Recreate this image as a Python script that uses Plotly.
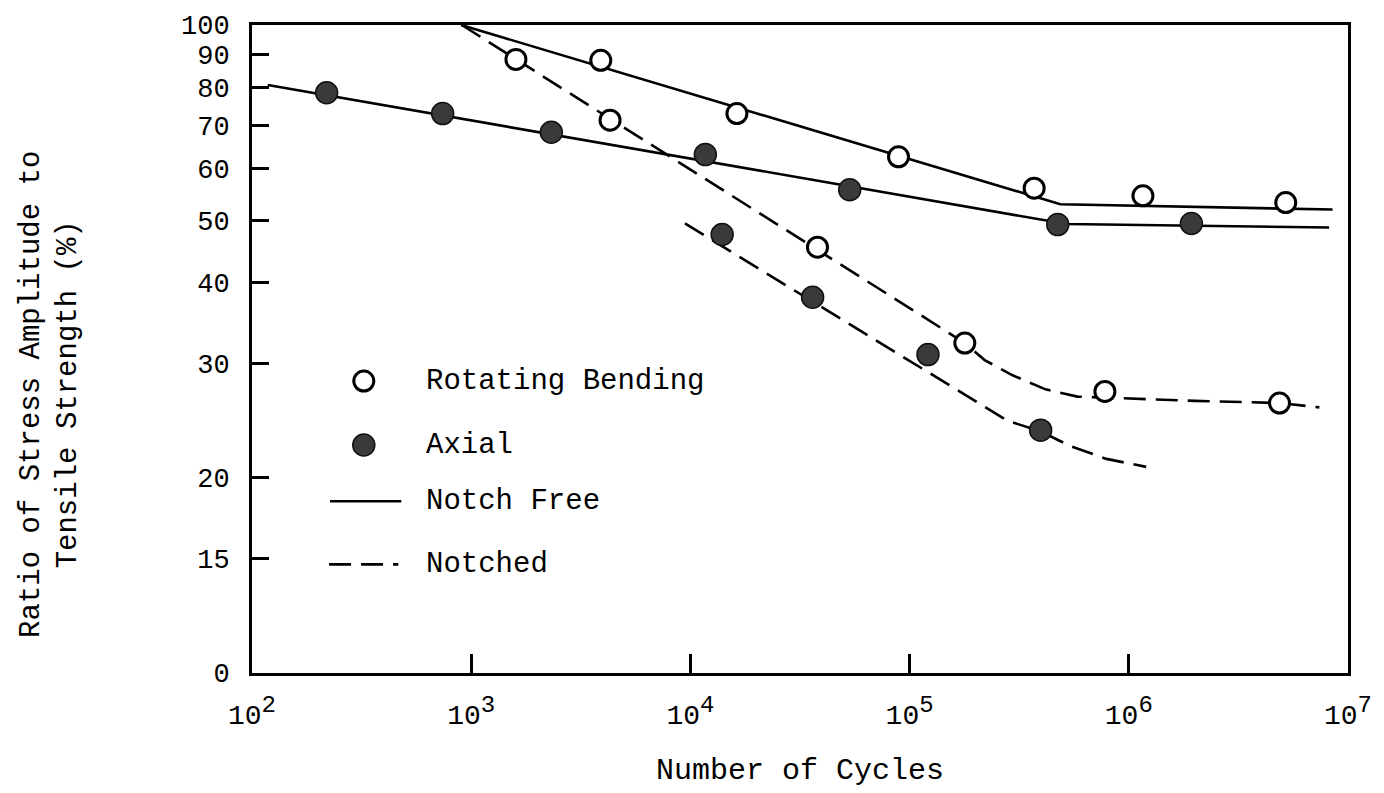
import plotly.graph_objects as go

# ---- measured fatigue data (cycles, % of tensile strength) ----
rb_free_n = [3900, 16300, 89000, 370000, 1160000, 5200000]
rb_free_s = [88.2, 73.0, 62.6, 56.0, 54.5, 53.2]

rb_notched_n = [1600, 4300, 38000, 178600, 778000, 4870000]
rb_notched_s = [88.5, 71.3, 45.4, 32.3, 27.2, 26.1]

ax_free_n = [219, 741, 2320, 11700, 53300, 474000, 1930000]
ax_free_s = [78.6, 73.0, 68.3, 63.1, 55.7, 49.2, 49.4]

ax_notched_n = [13960, 36100, 121300, 396000]
ax_notched_s = [47.5, 38.0, 31.0, 23.7]

# ---- faired S-N curves ----
rb_free_curve_n = [900, 487000, 8500000]
rb_free_curve_s = [100, 52.9, 51.9]

ax_free_curve_n = [118, 520000, 8200000]
ax_free_curve_s = [80.8, 49.3, 48.7]

rb_notched_curve_n = [906, 178600, 220000, 295000, 417000, 583000, 800000, 2000000, 4870000, 7400000]
rb_notched_curve_s = [100, 32.3, 30.4, 28.8, 27.4, 26.7, 26.6, 26.3, 26.1, 25.7]

ax_notched_curve_n = [9440, 280000, 396000, 541000, 790000, 1200000]
ax_notched_curve_s = [49.4, 24.5, 23.6, 22.4, 21.4, 20.8]

# ---- axis ticks ----
x_tickvals = [1e2, 1e3, 1e4, 1e5, 1e6, 1e7]
x_exponents = ["2", "3", "4", "5", "6", "7"]
y_tickvals = [10, 15, 20, 30, 40, 50, 60, 70, 80, 90, 100]
y_ticktext = ["0", "15", "20", "30", "40", "50", "60", "70", "80", "90", "100"]

legend_labels = ["Rotating Bending", "Axial", "Notch Free", "Notched"]

FONT = "Courier New, Liberation Mono, monospace"
FS = 29
DASH = "22px,10px"
LW = 2.6

# typewriter-style powers of ten with a near full-size exponent
x_ticktext = ["10<sup><span style='font-size:24px'>%s</span></sup>" % e
              for e in x_exponents]

fig = go.Figure()

# curves first so the markers sit on top
for n, s, dash in [(rb_free_curve_n, rb_free_curve_s, "solid"),
                   (ax_free_curve_n, ax_free_curve_s, "solid"),
                   (rb_notched_curve_n, rb_notched_curve_s, DASH),
                   (ax_notched_curve_n, ax_notched_curve_s, DASH)]:
    fig.add_trace(go.Scatter(x=n, y=s, mode="lines",
                             line=dict(color="black", width=LW, dash=dash),
                             showlegend=False, hoverinfo="skip"))

open_marker = dict(symbol="circle", size=20, color="white",
                   line=dict(color="black", width=3))
filled_marker = dict(symbol="circle", size=22, color="#3a3a3a",
                     line=dict(color="#111111", width=1.5))

for n, s in [(rb_free_n, rb_free_s), (rb_notched_n, rb_notched_s)]:
    fig.add_trace(go.Scatter(x=n, y=s, mode="markers", marker=open_marker,
                             showlegend=False, cliponaxis=False))
for n, s in [(ax_free_n, ax_free_s), (ax_notched_n, ax_notched_s)]:
    fig.add_trace(go.Scatter(x=n, y=s, mode="markers", marker=filled_marker,
                             showlegend=False, cliponaxis=False))

# ---- key drawn inside the plot area ----
key_x_sym = 0.102
key_x_text = 0.157
key_rows = [0.4506, 0.3518, 0.2650, 0.1677]

shapes = [
    dict(type="circle", xref="paper", yref="paper",
         xsizemode="pixel", ysizemode="pixel",
         xanchor=key_x_sym, yanchor=key_rows[0],
         x0=-10, x1=10, y0=-10, y1=10,
         line=dict(color="black", width=3), fillcolor="white"),
    dict(type="circle", xref="paper", yref="paper",
         xsizemode="pixel", ysizemode="pixel",
         xanchor=key_x_sym, yanchor=key_rows[1],
         x0=-11, x1=11, y0=-11, y1=11,
         line=dict(color="#111111", width=1.5), fillcolor="#3a3a3a"),
    dict(type="line", xref="paper", yref="paper",
         x0=0.0712, x1=0.1362, y0=key_rows[2], y1=key_rows[2],
         line=dict(color="black", width=LW)),
    dict(type="line", xref="paper", yref="paper",
         x0=0.0703, x1=0.1335, y0=key_rows[3], y1=key_rows[3],
         line=dict(color="black", width=LW, dash=DASH)),
]

annotations = [
    dict(text=lbl, xref="paper", yref="paper", x=key_x_text, y=yy,
         xanchor="left", yanchor="middle", showarrow=False,
         font=dict(family=FONT, size=FS, color="black"))
    for lbl, yy in zip(legend_labels, key_rows)
]
annotations.append(dict(
    text="Ratio of Stress Amplitude to<br>Tensile Strength (%)",
    xref="paper", yref="paper", x=-0.184, y=0.4296,
    xanchor="center", yanchor="middle", textangle=-90, showarrow=False,
    font=dict(family=FONT, size=FS, color="black")))

fig.update_layout(
    width=1384, height=793,
    margin=dict(l=252, r=23, t=22, b=103),
    paper_bgcolor="white", plot_bgcolor="white",
    font=dict(family=FONT, size=FS, color="black"),
    shapes=shapes, annotations=annotations,
    showlegend=False,
)

fig.update_xaxes(
    type="log", range=[2, 7],
    tickvals=x_tickvals, ticktext=x_ticktext,
    tickfont=dict(family=FONT, size=28),
    ticks="inside", ticklen=19, tickwidth=3, tickcolor="black",
    showline=True, linecolor="black", linewidth=3, mirror=True,
    showgrid=False, zeroline=False,
    ticklabelstandoff=14, ticklabeloverflow="allow",
    title=dict(text="Number of Cycles", standoff=28,
               font=dict(family=FONT, size=30)),
)
fig.update_yaxes(
    type="log", range=[1, 2],
    tickvals=y_tickvals, ticktext=y_ticktext,
    tickfont=dict(family=FONT, size=27),
    ticks="inside", ticklen=17, tickwidth=3, tickcolor="black",
    showline=True, linecolor="black", linewidth=3, mirror=True,
    showgrid=False, zeroline=False,
    ticklabelstandoff=14,
)

fig.write_html("out.html")
